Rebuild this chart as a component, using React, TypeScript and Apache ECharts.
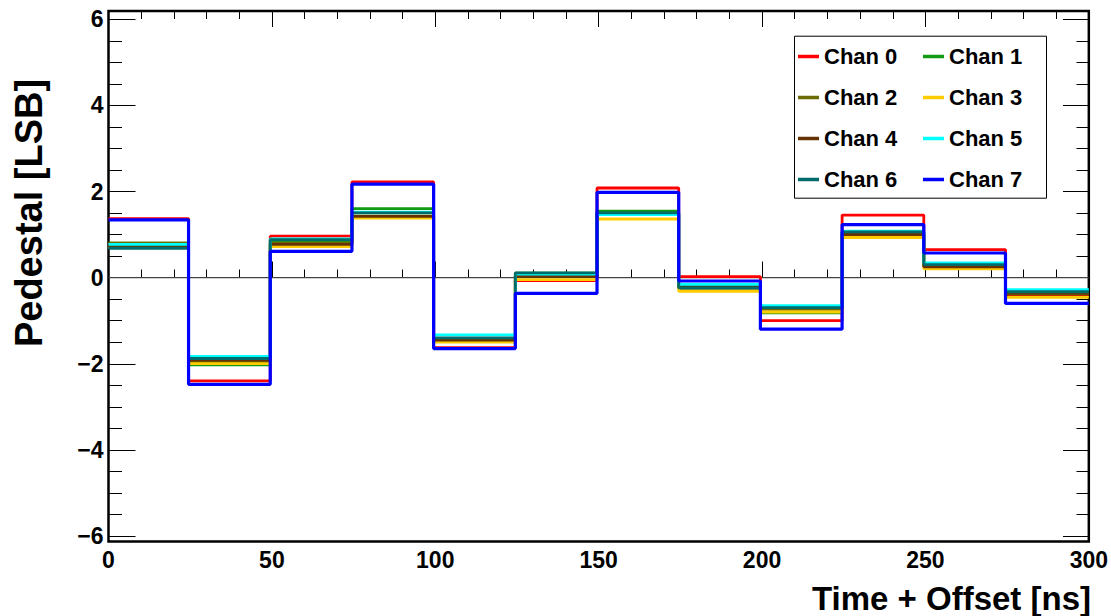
import React, { useEffect, useRef } from "react";
import * as echarts from "echarts";

// Segment boundaries in time (ns): the pedestal steps every 25 ns
const stepTimes = [0, 24.5, 49.5, 74.5, 99.5, 124.5, 149.5, 174.5, 199.5, 224.5, 249.5, 274.5, 300];

const channelNames = ["Chan 0", "Chan 1", "Chan 2", "Chan 3", "Chan 4", "Chan 5", "Chan 6", "Chan 7"];
const channelColors = ["#ff0000", "#139a13", "#6b6b00", "#ffcc00", "#663300", "#00ffff", "#006b6b", "#0000ff"];

// Pedestal level of each 25 ns segment, per channel (LSB)
const chan0 = [1.37, -2.40, 0.96, 2.22, -1.63, -0.07, 2.08, 0.02, -1.00, 1.45, 0.65, -0.42];
const chan1 = [0.80, -2.03, 0.86, 1.60, -1.45, 0.10, 1.54, -0.22, -0.82, 1.05, 0.28, -0.38];
const chan2 = [0.80, -1.95, 0.80, 1.50, -1.45, 0.05, 1.47, -0.25, -0.74, 1.00, 0.25, -0.37];
const chan3 = [0.70, -2.00, 0.72, 1.38, -1.50, -0.05, 1.36, -0.32, -0.80, 0.93, 0.20, -0.46];
const chan4 = [0.74, -1.92, 0.77, 1.42, -1.45, 0.03, 1.48, -0.20, -0.70, 1.00, 0.25, -0.36];
const chan5 = [0.77, -1.83, 0.90, 1.52, -1.33, 0.08, 1.46, -0.16, -0.65, 1.08, 0.34, -0.28];
const chan6 = [0.68, -1.88, 0.88, 1.50, -1.40, 0.11, 1.50, -0.24, -0.70, 1.06, 0.30, -0.33];
const chan7 = [1.34, -2.48, 0.61, 2.17, -1.65, -0.37, 1.98, -0.08, -1.20, 1.23, 0.57, -0.60];

const channels = [chan0, chan1, chan2, chan3, chan4, chan5, chan6, chan7];

const FONT = "Liberation Sans";

export default function App() {
  const ref = useRef<HTMLDivElement>(null);

  useEffect(() => {
    if (!ref.current) return;
    const chart = echarts.init(ref.current, undefined, { renderer: "svg" });

    const seriesData = channels.map((vals) =>
      stepTimes.map((t, i) => [t, vals[Math.min(i, vals.length - 1)]])
    );

    const tickLabel = {
      color: "#000",
      fontFamily: FONT,
      fontWeight: "bold" as const,
      fontSize: 23,
    };

    const option: any = {
      animation: false,
      backgroundColor: "#fff",
      grid: [
        {
          left: 108.5,
          top: 11,
          width: 981.5,
          height: 530.5,
          show: true,
          borderColor: "#000",
          borderWidth: 2.5,
          backgroundColor: "transparent",
        },
        {
          left: 108.5,
          top: 19.3,
          width: 981.5,
          height: 516.7,
          show: false,
        },
      ],
      xAxis: [
        {
          gridIndex: 0,
          type: "value",
          min: 0,
          max: 300,
          interval: 50,
          position: "bottom",
          axisLine: { show: false },
          axisTick: { show: true, inside: true, length: 16, lineStyle: { color: "#000", width: 1 } },
          minorTick: { show: true, splitNumber: 5, length: 8, lineStyle: { color: "#000", width: 1 } },
          splitLine: { show: false },
          axisLabel: { ...tickLabel, margin: 7 },
        },
        {
          gridIndex: 0,
          type: "value",
          min: 0,
          max: 300,
          interval: 50,
          position: "top",
          axisLine: { show: false },
          axisTick: { show: true, inside: true, length: 16, lineStyle: { color: "#000", width: 1 } },
          minorTick: { show: true, splitNumber: 5, length: 8, lineStyle: { color: "#000", width: 1 } },
          splitLine: { show: false },
          axisLabel: { show: false },
        },
        {
          gridIndex: 1,
          type: "value",
          min: 0,
          max: 300,
          show: false,
        },
      ],
      yAxis: [
        {
          gridIndex: 0,
          type: "value",
          min: -6.13,
          max: 6.19,
          show: false,
        },
        {
          gridIndex: 1,
          type: "value",
          min: -6,
          max: 6,
          interval: 2,
          position: "left",
          axisLine: { show: false },
          axisTick: { show: true, inside: true, length: 27, lineStyle: { color: "#000", width: 1 } },
          minorTick: { show: true, splitNumber: 4, length: 13.5, lineStyle: { color: "#000", width: 1 } },
          splitLine: { show: false },
          axisLabel: {
            ...tickLabel,
            margin: 5,
            formatter: (v: number) => String(v).replace("-", "\u2212"),
          },
        },
        {
          gridIndex: 1,
          type: "value",
          min: -6,
          max: 6,
          interval: 2,
          position: "right",
          axisLine: { show: false },
          axisTick: { show: true, inside: true, length: 27, lineStyle: { color: "#000", width: 1 } },
          minorTick: { show: true, splitNumber: 4, length: 13.5, lineStyle: { color: "#000", width: 1 } },
          splitLine: { show: false },
          axisLabel: { show: false },
        },
      ],
      legend: {
        data: channelNames,
        left: 798,
        top: 45.5,
        width: 240,
        orient: "horizontal",
        padding: 0,
        itemGap: 19,
        itemWidth: 21,
        itemHeight: 3.5,
        icon: "rect",
        textStyle: {
          color: "#000",
          fontFamily: FONT,
          fontWeight: "bold",
          fontSize: 22,
          lineHeight: 22,
          width: 80,
        },
      },
      graphic: [
        {
          type: "rect",
          left: 794,
          top: 35.7,
          shape: { width: 252, height: 162 },
          style: { fill: "transparent", stroke: "#000", lineWidth: 1 },
          silent: true,
          z: 5,
        },
        {
          type: "text",
          x: 1091,
          y: 598,
          style: {
            text: "Time + Offset [ns]",
            align: "right",
            verticalAlign: "middle",
            fontFamily: FONT,
            fontWeight: "bold",
            fontSize: 33,
            fill: "#000",
          },
        },
        {
          type: "text",
          x: 29,
          y: 213,
          rotation: Math.PI / 2,
          style: {
            text: "Pedestal [LSB]",
            align: "center",
            verticalAlign: "middle",
            fontFamily: FONT,
            fontWeight: "bold",
            fontSize: 38,
            fill: "#000",
          },
        },
      ],
      series: [
        {
          name: "zero",
          type: "line",
          xAxisIndex: 0,
          yAxisIndex: 0,
          data: [
            [0, 0],
            [300, 0],
          ],
          showSymbol: false,
          silent: true,
          lineStyle: { color: "#444", width: 1.2 },
          z: 1,
        },
        ...channelNames.map((name, i) => ({
          name,
          type: "line",
          xAxisIndex: 0,
          yAxisIndex: 0,
          step: "end",
          data: seriesData[i],
          showSymbol: false,
          color: channelColors[i],
          lineStyle: { color: channelColors[i], width: i === 7 ? 3.2 : 2.8 },
          z: 2 + i,
        })),
      ],
    };

    chart.setOption(option);
    return () => chart.dispose();
  }, []);

  return (
    <div
      ref={ref}
      style={{ position: "fixed", left: 0, top: 0, width: 1111, height: 616, background: "#fff" }}
    />
  );
}
